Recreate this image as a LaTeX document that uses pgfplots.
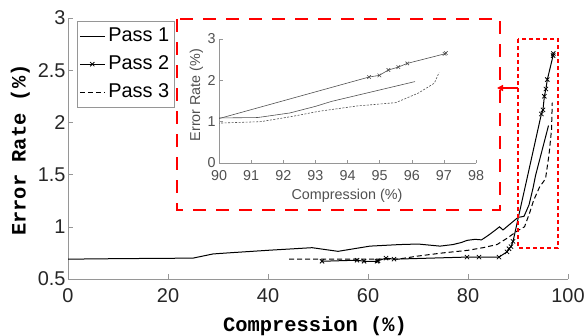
\documentclass[border=0pt]{standalone}
\usepackage{pgfplots}
\pgfplotsset{compat=1.18}
\usepackage{fontspec}
\setmainfont{Liberation Sans}
\newfontfamily\monofont{Liberation Mono}
\usetikzlibrary{arrows.meta}
\definecolor{axgray}{RGB}{150,150,150}
\definecolor{ingray}{RGB}{80,80,80}
\definecolor{tickc}{RGB}{38,38,38}

\pgfplotstableread{
x y
0 0.69
10 0.695
25 0.70
27 0.72
29 0.74
32 0.75
40 0.775
48.8 0.80
54 0.765
60.4 0.815
66.4 0.83
70 0.835
74.4 0.815
77 0.83
78.7 0.85
79.8 0.87
81.4 0.88
82.7 0.875
83.5 0.90
84.4 0.93
85.5 0.97
86.3 1.00
87 0.97
90 1.09
91.2 1.10
92.2 1.21
93.0 1.37
93.5 1.49
96.1 1.97
}\passone

\pgfplotstableread{
x y
50.8 0.67
57.8 0.68
59.2 0.67
61.8 0.67
62.0 0.675
63.6 0.70
65.2 0.69
79.8 0.71
82.2 0.71
86.2 0.71
87.8 0.76
88.2 0.79
88.6 0.81
89.0 0.86
94.67 2.08
94.99 2.12
95.27 2.25
95.58 2.32
95.86 2.41
97.02 2.64
97.06 2.66
}\passtwo

\pgfplotstableread{
x y
44.2 0.69
55 0.69
66 0.69
70 0.72
75 0.75
80 0.775
83 0.80
85.8 0.83
87.8 0.89
90 0.965
91.3 1.0
92.3 1.13
93.1 1.25
94.3 1.38
95.5 1.46
96.2 1.69
96.7 1.93
96.85 2.19
}\passthree

\begin{document}
\begin{tikzpicture}[x=1bp,y=1bp]
\useasboundingbox (0,0) rectangle (586,335);
\begin{axis}[
  at={(68bp,56bp)}, anchor=south west,
  scale only axis, width=500bp, height=261bp,
  xmin=0, xmax=100, ymin=0.5, ymax=3,
  xtick={0,20,...,100}, ytick={0.5,1,...,3},
  axis x line*=bottom, axis y line*=left,
  axis line style={axgray, line width=0.6bp},
  tick style={axgray, line width=0.6bp},
  tick align=inside, major tick length=5bp,
  /pgf/number format/assume math mode=true,
  ticklabel style={font=\fontsize{20}{24}\selectfont, text=tickc},
  xticklabel style={yshift=-6bp},
  yticklabel style={xshift=1bp},
  legend style={at={(axis description cs:0.018,0.989)}, anchor=north west, draw=axgray,
    line width=0.6bp, font=\fontsize{20}{24}\selectfont, inner xsep=2bp, inner ysep=1bp,
    nodes={text height=17bp, text depth=7bp, inner ysep=2bp, inner xsep=3bp}, cells={anchor=west}},
  legend image code/.code={\draw[mark repeat=2,mark phase=2] plot coordinates {(0bp,0bp)(12.5bp,0bp)(25bp,0bp)};},
]
\addplot[black, line width=1bp] table {\passone};
\addlegendentry{Pass 1}
\addplot[black, line width=1bp, mark=x, mark size=3bp, mark options={solid, line width=0.8bp}] table {\passtwo};
\addlegendentry{Pass 2}
\addplot[black, line width=1bp, dash pattern=on 5bp off 3bp] table {\passthree};
\addlegendentry{Pass 3}
\end{axis}

\node[rotate=90, anchor=base, font=\monofont\bfseries\fontsize{20.5}{24}\selectfont] at (25.5,185) {Error Rate (\%)};
\node[anchor=base, font=\monofont\bfseries\fontsize{20.5}{24}\selectfont] at (315,4) {Compression (\%)};

\draw[red, line width=2.5bp, dash pattern=on 13bp off 10bp] (177,316) rectangle (500,125);
\draw[red, line width=1.5bp, dash pattern=on 4bp off 3bp] (518,296) rectangle (558,87);
\draw[red, line width=1.5bp, -{Triangle[length=6bp,width=6bp]}] (518,247) -- (497,247);

\begin{axis}[
  at={(219bp,172bp)}, anchor=south west,
  scale only axis, width=257bp, height=124bp,
  xmin=90, xmax=98, ymin=0, ymax=3,
  xtick={90,...,98}, ytick={0,1,2,3},
  axis x line*=bottom, axis y line*=left,
  axis line style={axgray, line width=0.5bp},
  tick style={axgray, line width=0.5bp},
  tick align=inside, major tick length=3.5bp,
  /pgf/number format/assume math mode=true,
  ticklabel style={font=\fontsize{14.4}{17}\selectfont, text=ingray},
  xticklabel style={yshift=-4bp},
  clip=true,
]
\addplot[ingray, line width=0.6bp] table {\passone};
\addplot[ingray, line width=0.6bp, mark=x, mark size=2.5bp, mark options={solid, line width=0.6bp}] table {\passtwo};
\addplot[ingray, line width=0.6bp, dash pattern=on 2bp off 1.5bp] table {\passthree};
\end{axis}
\node[anchor=base, font=\fontsize{14.4}{17}\selectfont, text=ingray] at (347,136) {Compression (\%)};
\node[rotate=90, anchor=base, font=\fontsize{14.4}{17}\selectfont, text=ingray] at (200,240) {Error Rate (\%)};
\end{tikzpicture}
\end{document}
